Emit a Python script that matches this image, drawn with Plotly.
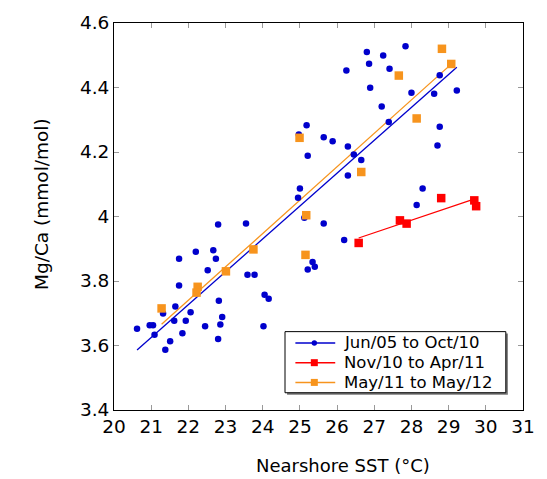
import numpy as np
import plotly.graph_objects as go

# Jun/05 to Oct/10 (blue circles)
blue_sst = [20.62, 20.96, 21.05, 21.09, 21.38, 21.51, 21.32, 21.65, 21.62, 21.84, 21.93, 22.06,
            21.75, 21.75, 22.20, 22.52, 22.67, 22.74, 22.80, 22.45, 22.82, 22.91, 22.86, 22.80,
            23.55, 23.59, 23.78, 24.05, 24.16, 24.02,
            26.80, 27.24, 27.84, 26.86, 27.41, 26.25, 28.76, 26.89, 28.00, 28.61, 29.22, 27.20,
            27.39, 25.18, 24.97, 25.64, 25.88, 28.76, 26.29, 26.45, 25.21, 26.65, 28.70, 26.29,
            25.00, 24.95, 28.30, 28.14, 25.12, 25.64, 26.19, 25.34, 25.40, 25.21]
blue_mgca = [3.652, 3.663, 3.663, 3.633, 3.587, 3.613, 3.699, 3.721, 3.677, 3.638, 3.677, 3.703,
             3.786, 3.869, 3.891, 3.833, 3.895, 3.869, 3.975, 3.660, 3.739, 3.688, 3.665, 3.620,
             3.978, 3.819, 3.819, 3.757, 3.745, 3.660,
             4.510, 4.499, 4.528, 4.474, 4.458, 4.453, 4.438, 4.399, 4.384, 4.381, 4.391, 4.341,
             4.293, 4.283, 4.254, 4.246, 4.233, 4.278, 4.217, 4.192, 4.188, 4.175, 4.220, 4.127,
             4.087, 4.058, 4.087, 4.036, 3.996, 3.978, 3.927, 3.859, 3.844, 3.836]

# Nov/10 to Apr/11 (red squares)
red_sst = [26.58, 27.69, 27.87, 28.80, 29.69, 29.74]
red_mgca = [3.918, 3.988, 3.978, 4.057, 4.050, 4.032]

# May/11 to May/12 (orange squares)
orange_sst = [21.28, 22.25, 22.22, 23.01, 23.75, 24.99, 25.17, 25.15, 26.65, 27.66, 28.14, 28.82, 29.07]
orange_mgca = [3.715, 3.782, 3.764, 3.830, 3.898, 4.244, 4.004, 3.881, 4.138, 4.437, 4.304, 4.520, 4.473]

x_ticks = list(range(20, 32))
y_ticks = [3.4, 3.6, 3.8, 4.0, 4.2, 4.4, 4.6]
y_tick_text = ["3.4", "3.6", "3.8", "4", "4.2", "4.4", "4.6"]

x_title = "Nearshore SST (°C)"
y_title = "Mg/Ca (mmol/mol)"

FONT = "DejaVu Sans, Liberation Sans, Arial"

series = [
    ("Jun/05 to Oct/10", blue_sst, blue_mgca, "#0000CC", "circle", 6.5),
    ("Nov/10 to Apr/11", red_sst, red_mgca, "#FF0000", "square", 8.5),
    ("May/11 to May/12", orange_sst, orange_mgca, "#F7941D", "square", 8.5),
]

fig = go.Figure()
for name, xs, ys, col, sym, msize in series:
    xa = np.array(xs)
    ya = np.array(ys)
    k, b = np.polyfit(xa, ya, 1)
    xl = np.array([xa.min(), xa.max()])
    fig.add_trace(go.Scatter(x=xl, y=k * xl + b, mode="lines", line=dict(color=col, width=1.3),
                             showlegend=False, hoverinfo="skip", name=name + " fit"))
for name, xs, ys, col, sym, msize in series:
    fig.add_trace(go.Scatter(x=xs, y=ys, mode="markers", marker=dict(color=col, symbol=sym, size=msize),
                             showlegend=False, name=name))

axis_common = dict(showline=True, linecolor="black", linewidth=1, mirror="ticks",
                   ticks="inside", ticklen=5, tickcolor="#999999", showgrid=False, zeroline=False,
                   tickfont=dict(family=FONT, size=18.5, color="black"))

# custom legend (box with shadow, line+marker samples, text)
shapes = []
annotations = []
box_x0, box_x1, box_y0, box_y1 = 0.4181, 0.958, 0.0446, 0.2025
shapes.append(dict(type="rect", xref="paper", yref="paper", x0=box_x0 + 0.005, x1=box_x1 + 0.005,
                   y0=box_y0 - 0.005, y1=box_y1 - 0.005, fillcolor="#777777", line=dict(width=0)))
shapes.append(dict(type="rect", xref="paper", yref="paper", x0=box_x0, x1=box_x1,
                   y0=box_y0, y1=box_y1, fillcolor="white", line=dict(color="black", width=1)))
row_y = [0.1732, 0.1223, 0.0713]
line_x0, line_x1, mark_x, text_x = 0.4435, 0.5409, 0.4898, 0.5589
for (name, xs, ys, col, sym, msize), ry in zip(series, row_y):
    shapes.append(dict(type="line", xref="paper", yref="paper", x0=line_x0, x1=line_x1, y0=ry, y1=ry,
                       line=dict(color=col, width=1.5)))
    half = 2.7 if sym == "circle" else 3.5
    shapes.append(dict(type="circle" if sym == "circle" else "rect", xref="paper", yref="paper",
                       xsizemode="pixel", ysizemode="pixel", xanchor=mark_x, yanchor=ry,
                       x0=-half, x1=half, y0=-half, y1=half, fillcolor=col, line=dict(width=0)))
    annotations.append(dict(text=name, xref="paper", yref="paper", x=text_x, y=ry,
                            xanchor="left", yanchor="middle", showarrow=False, borderpad=0,
                            font=dict(family=FONT, size=16.5, color="black")))

annotations.append(dict(text=x_title, xref="paper", yref="paper", x=0.5606, y=-0.1427,
                        xanchor="center", yanchor="middle", showarrow=False,
                        font=dict(family=FONT, size=18, color="black")))
annotations.append(dict(text=y_title, xref="paper", yref="paper", x=-0.1758, y=0.5325,
                        xanchor="center", yanchor="middle", showarrow=False, textangle=-90,
                        font=dict(family=FONT, size=18.5, color="black")))

fig.update_layout(
    width=547, height=479,
    margin=dict(l=114, r=12, t=17, b=69),
    paper_bgcolor="white", plot_bgcolor="white",
    font=dict(family=FONT, color="black"),
    showlegend=False,
    xaxis=dict(range=[20, 31], tickvals=x_ticks, **axis_common),
    yaxis=dict(range=[3.4, 4.6], tickvals=y_ticks, ticktext=y_tick_text, **axis_common),
    shapes=shapes,
    annotations=annotations,
)

fig.write_html("out.html")
